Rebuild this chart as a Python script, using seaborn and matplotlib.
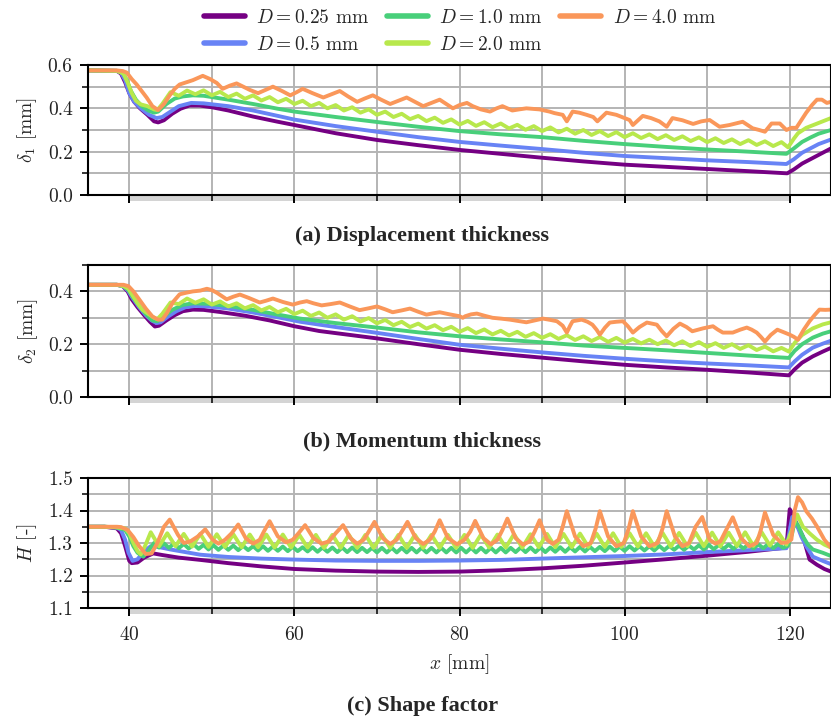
import numpy as np
import pandas as pd
import matplotlib
matplotlib.use("Agg")
import matplotlib.pyplot as plt
from matplotlib.ticker import MultipleLocator, FormatStrFormatter
import seaborn as sns

# ---------------- data ----------------
LABELS = [r"$D = 0.25$ mm", r"$D = 0.5$ mm", r"$D = 1.0$ mm", r"$D = 2.0$ mm", r"$D = 4.0$ mm"]
COLORS = ["#750083", "#6883f5", "#48cf7a", "#b8e84c", "#fa975a"]

# ---- (a) displacement thickness delta_1 [mm]
X_D1_025 = [35, 38.5, 39.0, 39.5, 40.0, 40.6, 41.3, 42.2, 43.0, 43.5,
            44.2, 45.2, 46.2, 47.3, 48.5, 50, 52, 55, 58, 60,
            65, 70, 75, 80, 85, 90, 95, 100, 105, 110,
            115, 119.7, 120.5, 121.5, 122.5, 123.5, 125]
D1_025 = [.575, .573, .56, .52, .47, .43, .40, .37, .34, .335,
          .345, .375, .398, .413, .413, .405, .39, .362, .338, .323,
          .285, .254, .23, .208, .19, .172, .155, .14, .13, .12,
          .11, .10, .118, .145, .165, .185, .215]

X_D1_05 = [35, 38.5, 39.0, 39.5, 40.0, 40.6, 41.4, 42.4, 43.3, 44.0,
           45, 46, 47.5, 49, 52, 55, 58, 60, 65, 70,
           75, 80, 85, 90, 95, 100, 105, 110, 115, 119.6,
           120.5, 121.5, 122.5, 123.5, 125]
D1_05 = [.575, .573, .565, .53, .47, .43, .40, .37, .355, .36,
         .385, .41, .425, .423, .41, .39, .365, .348, .318, .292,
         .267, .245, .228, .212, .195, .18, .17, .16, .152, .143,
         .165, .195, .215, .235, .256]

X_D1_10 = [35, 38.5, 39.2, 39.7, 40.2, 40.8, 41.5, 42.3, 43.0, 43.5,
           44.5, 45.5, 46.5, 47.7, 49, 52, 55, 58, 60, 65,
           70, 75, 80, 85, 90, 95, 100, 105, 110, 115,
           119.6, 120.5, 121.5, 122.5, 123.5, 125]
D1_10 = [.575, .573, .565, .53, .48, .44, .41, .39, .38, .385,
         .42, .445, .455, .46, .458, .44, .42, .398, .385, .36,
         .337, .315, .295, .28, .267, .25, .235, .222, .21, .2,
         .19, .215, .245, .265, .283, .30]

X_D1_20 = ([35, 38.5, 39.3, 39.8, 40.3, 40.8, 41.4, 42.2, 43.0, 43.4, 44.0]
           + list(range(45, 120))
           + [119.8, 120.5, 121, 122, 123, 124, 125])
D1_20 = ([.575, .573, .56, .52, .47, .435, .418, .41, .395, .392, .42]
         + [.475, .458, .482, .465, .483, .46, .476, .452, .468, .444,
            .46, .436, .452, .428, .444, .42, .435, .41, .425, .40,
            .415, .39, .405, .38, .395, .37, .385, .36, .375, .35,
            .365, .341, .357, .333, .349, .325, .342, .319, .336, .313,
            .33, .307, .324, .301, .318, .295, .312, .289, .306, .283,
            .30, .277, .295, .272, .29, .267, .285, .263, .28, .258,
            .276, .254, .271, .249, .266, .244, .262, .24, .257, .235,
            .253, .231, .248, .226, .244]
         + [.22, .26, .285, .31, .325, .34, .355])

X_D1_40 = [35, 38.5, 39.2, 39.7, 40.3, 40.9, 41.5, 42.1, 42.8, 43.5,
           44.2, 44.9, 45.5, 46.1, 46.9, 47.7, 48.9, 49.8, 50.6, 51.3,
           52.2, 53.0, 53.8, 54.6, 55.6, 56.5, 57.4, 58.5, 59.5, 60.3,
           61.0, 62.2, 63.5, 64.5, 65.5, 66.5, 67.6, 68.5, 69.5, 70.5,
           71.6, 72.6, 73.6, 74.6, 75.6, 76.6, 77.6, 78.4, 79.2, 80.0,
           80.9, 81.6, 82.6, 83.7, 84.5, 85.2, 86.4, 87.2, 88.1, 89.7,
           90.9, 91.5, 92.5, 93.0, 93.7, 94.5, 95.4, 96.2, 96.7, 97.8,
           99.0, 100.0, 100.6, 101.0, 102.2, 103.2, 104.2, 105.1, 105.8, 107.0,
           108.3, 109.3, 110.3, 111.5, 112.7, 114.3, 115.5, 116.3, 117.0, 117.8,
           118.8, 119.6, 120.2, 120.8, 121.4, 122.0, 122.7, 123.3, 123.9, 124.5,
           125]
D1_40 = [.575, .575, .572, .565, .535, .51, .48, .45, .41, .392,
         .42, .46, .49, .51, .52, .53, .55, .535, .517, .49,
         .505, .515, .50, .485, .47, .485, .50, .48, .46, .475,
         .49, .47, .45, .465, .48, .455, .43, .445, .46, .44,
         .42, .435, .45, .43, .41, .425, .44, .42, .40, .415,
         .425, .41, .395, .385, .40, .41, .39, .395, .40, .395,
         .385, .378, .37, .34, .385, .38, .37, .36, .34, .38,
         .37, .355, .346, .323, .365, .355, .34, .315, .355, .345,
         .328, .34, .346, .315, .323, .338, .308, .30, .292, .33,
         .33, .30, .31, .31, .345, .38, .415, .44, .44, .425,
         .43]

# ---- (b) momentum thickness delta_2 [mm]
X_D2_025 = [35, 38.5, 39.2, 39.8, 40.3, 41.0, 41.8, 42.5, 43.1, 43.6,
            44.5, 45.5, 46.5, 47.7, 49, 51, 54, 57, 60, 63,
            66, 70, 75, 80, 85, 90, 95, 100, 105, 110,
            115, 119.9, 120.6, 121.5, 122.8, 124, 125]
D2_025 = [.425, .425, .42, .40, .37, .34, .31, .285, .267, .27,
          .29, .31, .325, .331, .33, .322, .308, .29, .268, .25,
          .238, .222, .2, .179, .163, .149, .135, .122, .112, .103,
          .093, .082, .105, .13, .154, .172, .186]

X_D2_05 = [35, 38.5, 39.2, 39.8, 40.4, 41.2, 42.0, 42.7, 43.3, 43.8,
           44.7, 45.7, 46.8, 48, 49.5, 52, 55, 58, 60.7, 65,
           70, 75, 80, 85, 90, 95, 100, 105, 110, 115,
           119.9, 120.6, 121.5, 122.8, 124, 125]
D2_05 = [.425, .425, .42, .405, .375, .34, .31, .29, .28, .283,
         .305, .325, .34, .345, .343, .335, .32, .302, .285, .265,
         .243, .22, .198, .183, .169, .156, .145, .135, .127, .12,
         .112, .135, .16, .187, .202, .213]

X_D2_10 = [35, 38.5, 39.3, 39.9, 40.5, 41.2, 42.0, 42.8, 43.4, 44.2,
           45.2, 46.4, 47.7, 49.5, 52, 55, 58, 60.7, 65, 70,
           75, 80, 85, 90, 95, 100, 105, 110, 115, 119.9,
           120.6, 121.5, 122.8, 124, 125]
D2_10 = [.425, .425, .42, .405, .375, .345, .315, .29, .287, .305,
         .33, .348, .355, .353, .345, .33, .312, .297, .28, .263,
         .245, .23, .218, .207, .195, .186, .177, .167, .157, .148,
         .175, .2, .225, .24, .249]

X_D2_20 = ([35, 38.5, 39.3, 39.9, 40.4, 41.0, 41.6, 42.3, 43.0, 43.4, 44.0]
           + list(range(45, 120))
           + [119.9, 120.6, 121.5, 122.8, 124, 125])
D2_20 = ([.425, .425, .42, .41, .385, .355, .33, .315, .30, .295, .315]
         + [.358, .352, .373, .357, .370, .350, .362, .343, .355, .336,
            .348, .328, .341, .321, .334, .314, .327, .307, .320, .300,
            .313, .293, .306, .286, .299, .279, .292, .272, .285, .265,
            .278, .259, .272, .253, .266, .247, .261, .242, .256, .237,
            .251, .233, .247, .228, .242, .224, .238, .220, .234, .216,
            .230, .212, .227, .209, .224, .206, .220, .203, .217, .200,
            .214, .196, .211, .193, .208, .190, .204, .186, .200, .182,
            .196, .178, .191, .173, .186]
         + [.172, .205, .235, .26, .275, .283])

X_D2_40 = [35, 38.5, 39.3, 39.9, 40.5, 41.2, 42.0, 42.8, 43.5, 44.0,
           44.6, 45.3, 46.1, 46.9, 47.7, 48.6, 49.4, 50.0, 50.6, 51.8,
           52.6, 53.4, 54.5, 55.8, 56.6, 57.4, 58.6, 59.8, 60.7, 61.5,
           62.3, 63.3, 64.4, 65.5, 66.7, 67.9, 69.0, 70.0, 71.0, 71.9,
           73.0, 74.0, 75.0, 76.0, 76.8, 77.6, 78.8, 80.0, 80.4, 80.7,
           81.4, 82.1, 83.0, 84.0, 85.0, 86.1, 87.1, 88.1, 89.1, 90.1,
           91.0, 91.8, 92.5, 93.0, 93.4, 93.7, 94.8, 95.5, 96.1, 96.6,
           97.0, 97.6, 98.2, 99.0, 99.8, 100.4, 101.0, 101.8, 102.7, 103.3,
           103.9, 104.5, 105.1, 105.9, 106.7, 107.5, 108.2, 109.5, 110.7, 111.3,
           111.9, 113.1, 114.0, 114.8, 115.4, 116.0, 116.5, 117.0, 117.7, 118.5,
           119.3, 120.0, 120.5, 121.0, 121.7, 122.4, 123.0, 123.6, 124.3, 125]
D2_40 = [.425, .425, .425, .42, .40, .37, .335, .305, .293, .293,
         .32, .36, .389, .395, .40, .403, .41, .405, .395, .37,
         .38, .388, .375, .358, .365, .373, .36, .35, .358, .363,
         .355, .347, .352, .358, .343, .329, .336, .343, .332, .321,
         .328, .335, .323, .312, .317, .321, .313, .306, .30, .306,
         .313, .316, .308, .30, .297, .293, .288, .283, .29, .297,
         .292, .287, .27, .244, .27, .287, .293, .285, .274, .255,
         .236, .262, .282, .285, .287, .268, .244, .265, .282, .278,
         .274, .25, .23, .258, .278, .265, .249, .26, .268, .255,
         .244, .244, .255, .263, .255, .244, .228, .21, .235, .255,
         .245, .236, .228, .217, .255, .287, .31, .331, .33, .331]

# ---- (c) shape factor H [-]
X_H_025 = [35, 37, 38.5, 39.0, 39.5, 40.0, 40.3, 41.0, 41.8, 42.9,
           44, 46, 48.6, 52, 56, 60, 65, 70, 75, 80,
           85, 90, 95, 100, 105, 110, 115, 119.6, 120.0, 120.3,
           121.0, 121.6, 122.4, 123.3, 124.2, 125]
H_025 = [1.35, 1.35, 1.345, 1.33, 1.29, 1.245, 1.238, 1.24, 1.255, 1.268,
         1.263, 1.255, 1.248, 1.238, 1.228, 1.22, 1.215, 1.212, 1.211, 1.212,
         1.216, 1.222, 1.23, 1.24, 1.25, 1.261, 1.273, 1.286, 1.404, 1.39,
         1.35, 1.32, 1.249, 1.233, 1.22, 1.212]

X_H_05 = [35, 37, 38.5, 39.0, 39.5, 39.9, 40.4, 41.0, 41.8, 42.6,
          43.5, 45, 48.6, 52, 56, 60, 65, 70, 75, 80,
          85, 90, 95, 100, 105, 110, 115, 119.6, 120.3, 120.8,
          121.4, 122.0, 122.8, 124, 125]
H_05 = [1.35, 1.35, 1.347, 1.34, 1.31, 1.27, 1.245, 1.25, 1.275, 1.29,
        1.288, 1.28, 1.264, 1.257, 1.252, 1.249, 1.246, 1.245, 1.245, 1.246,
        1.248, 1.252, 1.256, 1.26, 1.265, 1.272, 1.278, 1.284, 1.38, 1.36,
        1.32, 1.29, 1.258, 1.245, 1.235]

X_H_10 = ([35, 37, 38.5, 39.5, 40.0, 40.5, 41.0, 41.7, 42.3]
          + list(np.round(43.0 + 0.6 * np.arange(128), 2))
          + [119.8, 120.3, 120.6, 121.0, 121.6, 122.2, 122.8, 124, 125])
H_10 = ([1.35, 1.35, 1.348, 1.34, 1.32, 1.29, 1.27, 1.258, 1.275]
        + [1.300, 1.286, 1.299, 1.285, 1.298, 1.284, 1.297, 1.283, 1.296, 1.282,
           1.294, 1.280, 1.293, 1.279, 1.292, 1.279, 1.292, 1.278, 1.291, 1.278,
           1.290, 1.277, 1.290, 1.276, 1.289, 1.276, 1.289, 1.275, 1.288, 1.275,
           1.287, 1.274, 1.287, 1.273, 1.286, 1.273, 1.286, 1.272, 1.286, 1.272,
           1.286, 1.272, 1.285, 1.272, 1.285, 1.271, 1.285, 1.271, 1.285, 1.271,
           1.285, 1.271, 1.285, 1.271, 1.285, 1.271, 1.285, 1.271, 1.285, 1.271,
           1.285, 1.271, 1.285, 1.271, 1.285, 1.271, 1.285, 1.271, 1.285, 1.271,
           1.285, 1.271, 1.285, 1.272, 1.286, 1.272, 1.286, 1.272, 1.286, 1.272,
           1.286, 1.273, 1.287, 1.273, 1.287, 1.274, 1.288, 1.274, 1.288, 1.275,
           1.288, 1.275, 1.289, 1.276, 1.289, 1.276, 1.290, 1.277, 1.290, 1.277,
           1.290, 1.277, 1.291, 1.278, 1.291, 1.279, 1.292, 1.279, 1.292, 1.280,
           1.293, 1.280, 1.294, 1.281, 1.294, 1.282, 1.295, 1.282, 1.295, 1.283,
           1.296, 1.283, 1.296, 1.284, 1.297, 1.284, 1.297, 1.285]
        + [1.292, 1.33, 1.367, 1.355, 1.32, 1.295, 1.28, 1.27, 1.26])

X_H_20 = ([35, 37, 38.5, 39.5, 40.0, 40.5, 41.0, 41.4, 41.9]
          + list(np.round(42.6 + np.arange(77), 2))
          + [119.6, 120.4, 120.9, 121.6, 122.4, 123.3, 124.2, 125])
H_20 = ([1.35, 1.35, 1.348, 1.345, 1.33, 1.30, 1.275, 1.265, 1.29]
        + [1.333, 1.29, 1.33, 1.29, 1.328, 1.289, 1.328, 1.288, 1.327, 1.288,
           1.327, 1.287, 1.326, 1.287, 1.326, 1.286, 1.326, 1.286, 1.325, 1.286,
           1.325, 1.285, 1.325, 1.285, 1.325, 1.285, 1.325, 1.285, 1.325, 1.285,
           1.325, 1.285, 1.325, 1.285, 1.325, 1.285, 1.325, 1.285, 1.325, 1.285,
           1.326, 1.286, 1.326, 1.286, 1.327, 1.286, 1.327, 1.287, 1.328, 1.287,
           1.328, 1.287, 1.329, 1.288, 1.329, 1.288, 1.33, 1.288, 1.33, 1.289,
           1.33, 1.289, 1.331, 1.289, 1.331, 1.29, 1.332, 1.29, 1.332, 1.29,
           1.332, 1.291, 1.333, 1.291, 1.333, 1.292, 1.333]
        + [1.295, 1.35, 1.388, 1.35, 1.33, 1.31, 1.295, 1.286])

X_H_40 = [35, 37, 38.5, 39.0, 39.8, 40.5, 41.2, 42.0, 42.7, 43.4,
          44.2, 44.9, 45.9, 46.6, 47.4, 48.3, 49.2, 50.1, 50.8, 51.6,
          52.4, 53.2, 54.1, 55.0, 55.8, 56.3, 57.0, 58.0, 59.0, 59.8,
          60.5, 61.3, 62.3, 63.3, 64.2, 65.0, 65.9, 66.8, 67.6, 68.4,
          69.0, 69.7, 70.7, 71.6, 72.4, 73.0, 73.7, 74.7, 75.6, 76.4,
          77.0, 77.6, 78.6, 79.7, 80.6, 81.3, 81.9, 82.9, 83.8, 84.6,
          85.2, 85.8, 86.8, 87.7, 88.5, 89.1, 89.7, 90.6, 91.3, 92.0,
          92.5, 93.0, 94.0, 95.0, 95.9, 96.5, 97.0, 98.0, 99.0, 99.9,
          100.5, 101.0, 102.0, 103.0, 104.0, 104.6, 105.1, 106.1, 107.0, 107.8,
          108.6, 109.4, 110.3, 111.0, 111.6, 112.3, 113.1, 114.1, 115.1, 116.0,
          116.5, 117.0, 118.0, 119.0, 119.7, 120.2, 120.6, 121.0, 121.5, 122.0,
          122.7, 123.3, 124.2, 125]
H_40 = [1.35, 1.35, 1.35, 1.349, 1.34, 1.318, 1.29, 1.266, 1.268, 1.30,
        1.35, 1.372, 1.325, 1.30, 1.305, 1.32, 1.342, 1.31, 1.298, 1.31,
        1.33, 1.357, 1.315, 1.298, 1.31, 1.335, 1.367, 1.32, 1.302, 1.31,
        1.33, 1.355, 1.315, 1.298, 1.305, 1.33, 1.355, 1.315, 1.298, 1.31,
        1.335, 1.365, 1.315, 1.297, 1.31, 1.335, 1.365, 1.315, 1.297, 1.31,
        1.335, 1.37, 1.315, 1.296, 1.31, 1.335, 1.368, 1.315, 1.296, 1.31,
        1.34, 1.375, 1.315, 1.295, 1.305, 1.335, 1.37, 1.31, 1.297, 1.31,
        1.35, 1.398, 1.32, 1.29, 1.30, 1.345, 1.398, 1.32, 1.29, 1.30,
        1.345, 1.398, 1.32, 1.29, 1.30, 1.345, 1.398, 1.32, 1.29, 1.30,
        1.35, 1.38, 1.31, 1.298, 1.305, 1.34, 1.379, 1.315, 1.29, 1.30,
        1.34, 1.394, 1.325, 1.30, 1.302, 1.311, 1.40, 1.441, 1.425, 1.398,
        1.375, 1.351, 1.31, 1.286]

X_TICKS = [40, 60, 80, 100, 120]
TITLES = ["(a) Displacement thickness", "(b) Momentum thickness", "(c) Shape factor"]
YLABELS = [r"$\delta_1$ [mm]", r"$\delta_2$ [mm]", r"$H$ [-]"]

PANELS = [
    [(X_D1_025, D1_025), (X_D1_05, D1_05), (X_D1_10, D1_10), (X_D1_20, D1_20), (X_D1_40, D1_40)],
    [(X_D2_025, D2_025), (X_D2_05, D2_05), (X_D2_10, D2_10), (X_D2_20, D2_20), (X_D2_40, D2_40)],
    [(X_H_025, H_025), (X_H_05, H_05), (X_H_10, H_10), (X_H_20, H_20), (X_H_40, H_40)],
]


def panel_frame(series):
    frames = []
    for lab, (xs, ys) in zip(LABELS, series):
        assert len(xs) == len(ys), (lab, len(xs), len(ys))
        frames.append(pd.DataFrame({"x": np.asarray(xs, float), "y": np.asarray(ys, float), "D": lab}))
    return pd.concat(frames, ignore_index=True)


# ---------------- style ----------------
sns.set_style("ticks")
plt.rcParams.update({
    "font.family": "serif",
    "font.serif": ["cmr10"],
    "mathtext.fontset": "cm",
    "axes.formatter.use_mathtext": True,
    "axes.unicode_minus": False,
})

fig = plt.figure(figsize=(8.31, 7.19), dpi=100)
W, H = 831.0, 719.0
left = 88 / W
width = 1.0 - left
boxes = [(65, 195), (265, 397), (478, 608)]
ylims = [(0.0, 0.6), (0.0, 0.5), (1.1, 1.5)]
ymaj = [0.2, 0.2, 0.1]
ymin_ = [0.1, 0.1, 0.05]
title_y = [236, 441, 706]

axes = []
for i, (top, bot) in enumerate(boxes):
    ax = fig.add_axes([left, 1 - bot / H, width, (bot - top) / H])
    axes.append(ax)
    df = panel_frame(PANELS[i])
    sns.lineplot(data=df, x="x", y="y", hue="D", hue_order=LABELS, palette=COLORS,
                 estimator=None, sort=False, linewidth=2.8, ax=ax, legend=(i == 0))
    ax.set_xlim(35, 125)
    ax.set_ylim(*ylims[i])
    ax.xaxis.set_major_locator(MultipleLocator(20))
    ax.xaxis.set_minor_locator(MultipleLocator(10))
    ax.yaxis.set_major_locator(MultipleLocator(ymaj[i]))
    ax.yaxis.set_minor_locator(MultipleLocator(ymin_[i]))
    ax.yaxis.set_major_formatter(FormatStrFormatter("%.1f"))
    ax.set_axisbelow(True)
    ax.grid(which="both", color="#b4b4b4", linewidth=1.4)
    for s in ax.spines.values():
        s.set_linewidth(1.5)
        s.set_color("black")
    ax.tick_params(which="major", direction="out", length=6, width=1.4, labelsize=14,
                   color="black", labelcolor="#222222", pad=5)
    ax.tick_params(which="minor", direction="out", length=4, width=1.1, color="black")
    ax.set_ylabel(YLABELS[i], fontsize=14, labelpad=6)
    if i < 2:
        ax.tick_params(axis="x", which="both", labelbottom=False)
        ax.set_xlabel("")
    else:
        ax.set_xticks(X_TICKS)
        ax.tick_params(axis="x", which="major", pad=7)
        ax.set_xlabel(r"$x$ [mm]", fontsize=14, labelpad=6)
    # grey wall strip below the axis
    ax.axvspan(40, 120, ymin=-6.0 / (bot - top), ymax=0.0, facecolor="#d4d4d4",
               edgecolor="none", clip_on=False, zorder=0.2)
    fig.text(0.508, 1 - title_y[i] / H, TITLES[i], ha="center", va="center",
             fontfamily="Liberation Serif", fontweight="bold", fontsize=16)

handles, labels = axes[0].get_legend_handles_labels()
axes[0].get_legend().remove()
for h in handles:
    h.set_linewidth(4.0)
fig.legend(handles, labels, loc="center", bbox_to_anchor=(460 / W, 1 - 31.5 / H),
           ncol=3, frameon=False, fontsize=14, handlelength=2.1, handletextpad=0.6,
           columnspacing=0.9, labelspacing=0.45)

fig.savefig("out.png", dpi=100)
